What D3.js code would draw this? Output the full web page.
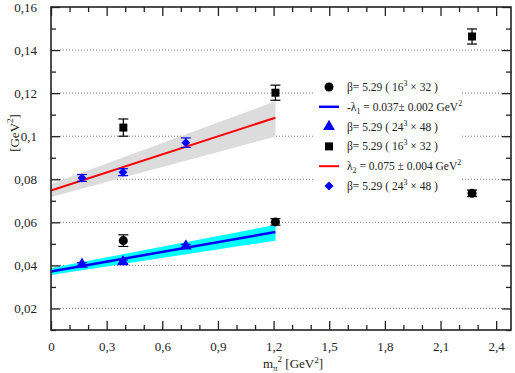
<!DOCTYPE html>
<html>
<head>
<meta charset="utf-8">
<script src="https://cdn.jsdelivr.net/npm/d3@7"></script>
<style>
  body { margin: 0; background: #fff; }
  svg text { font-family: "Liberation Serif", "DejaVu Serif", serif; }
</style>
</head>
<body>
<div id="chart"></div>
<script>
// data
const xTicks = [0, 0.3, 0.6, 0.9, 1.2, 1.5, 1.8, 2.1, 2.4];
const yTicks = [0.02, 0.04, 0.06, 0.08, 0.1, 0.12, 0.14, 0.16];

const circX = [0.39, 1.21, 2.27];
const circY = [0.0515, 0.0602, 0.0735];
const circE = [0.0027, 0.0015, 0.0015];

const triX = [0.167, 0.388, 0.727];
const triY = [0.0405, 0.0417, 0.049];
const triE = [0.0008, 0.0008, 0.0008];

const sqX = [0.39, 1.21, 2.27];
const sqY = [0.104, 0.1202, 0.1463];
const sqE = [0.004, 0.0035, 0.0035];

const diaX = [0.167, 0.388, 0.727];
const diaY = [0.0806, 0.0833, 0.097];
const diaE = [0.0016, 0.0016, 0.0022];

// fits: x at ends, line value, band low/high
const fitX = [0, 1.21];
const fit1 = [0.0372, 0.0555];
const band1Lo = [0.0356, 0.0515];
const band1Hi = [0.0388, 0.0588];
const fit2 = [0.0748, 0.1086];
const band2Lo = [0.0718, 0.0999];
const band2Hi = [0.0778, 0.1162];

const legendLabels = [
  "β= 5.29 ( 16|3| × 32 )",
  "-λ_1_ = 0.037± 0.002 GeV|2|",
  "β= 5.29 ( 24|3| × 48 )",
  "β= 5.29 ( 16|3| × 32 )",
  "λ_2_ = 0.075 ± 0.004 GeV|2|",
  "β= 5.29 ( 24|3| × 48 )"
];

const W = 515, H = 373;
const margin = { top: 7, right: 4, bottom: 43, left: 51 };

const x = d3.scaleLinear().domain([0, 2.48]).range([margin.left, W - margin.right]);
const y = d3.scaleLinear().domain([0.01, 0.16]).range([H - margin.bottom, margin.top]);

const svg = d3.select("#chart").append("svg")
  .attr("width", W).attr("height", H);

// grid
svg.append("g")
  .selectAll("line")
  .data(yTicks.filter(d => d < 0.16))
  .join("line")
  .attr("x1", x.range()[0]).attr("x2", x.range()[1])
  .attr("y1", d => y(d)).attr("y2", d => y(d))
  .attr("stroke", "#555").attr("stroke-width", 0.8)
  .attr("stroke-dasharray", "1,2");

// legend background (covers grid)
const lg = svg.append("g");
lg.append("rect")
  .attr("x", 314).attr("y", 74).attr("width", 148).attr("height", 122)
  .attr("fill", "#fff");

// bands
const bandArea = (lo, hi) => d3.area()
  .x((d, i) => x(fitX[i]))
  .y0((d, i) => y(lo[i]))
  .y1((d, i) => y(hi[i]))(fitX);

svg.append("path").attr("d", bandArea(band2Lo, band2Hi)).attr("fill", "#dcdcdc");
svg.append("path").attr("d", bandArea(band1Lo, band1Hi)).attr("fill", "#00ffff");

const fitLine = vals => d3.line()
  .x((d, i) => x(fitX[i]))
  .y((d, i) => y(vals[i]))(fitX);

svg.append("path").attr("d", fitLine(fit2)).attr("stroke", "#ff0000").attr("stroke-width", 2).attr("fill", "none");
svg.append("path").attr("d", fitLine(fit1)).attr("stroke", "#0000ff").attr("stroke-width", 2.5).attr("fill", "none");

// error bars
function errBars(xs, ys, es, color) {
  const g = svg.append("g").attr("stroke", color).attr("stroke-width", 1.2);
  xs.forEach((xv, i) => {
    const px = x(xv), top = y(ys[i] + es[i]), bot = y(ys[i] - es[i]);
    g.append("line").attr("x1", px).attr("x2", px).attr("y1", top).attr("y2", bot);
    g.append("line").attr("x1", px - 5).attr("x2", px + 5).attr("y1", top).attr("y2", top);
    g.append("line").attr("x1", px - 5).attr("x2", px + 5).attr("y1", bot).attr("y2", bot);
  });
}
errBars(circX, circY, circE, "#000");
errBars(sqX, sqY, sqE, "#000");
errBars(triX, triY, triE, "#0000ff");
errBars(diaX, diaY, diaE, "#0000ff");

const symCirc = d3.symbol(d3.symbolCircle, 64);
const symSq = d3.symbol(d3.symbolSquare, 64);
const symTri = d3.symbol(d3.symbolTriangle, 60);
const symDia = d3.symbol(d3.symbolSquare, 40); // rotated 45deg below

function points(xs, ys, sym, color, rot) {
  svg.append("g").selectAll("path")
    .data(xs)
    .join("path")
    .attr("transform", (d, i) => `translate(${x(d)},${y(ys[i])}) rotate(${rot || 0})`)
    .attr("d", sym)
    .attr("fill", color);
}
points(circX, circY, symCirc, "#000");
points(sqX, sqY, symSq, "#000");
points(triX, triY, symTri, "#0000ff");
points(diaX, diaY, symDia, "#0000ff", 45);

// frame and axes
const x0 = x.range()[0], x1 = x.range()[1], yb = y.range()[0], yt = y.range()[1];
const minorX = d3.range(0, 25).map(i => i / 10).filter(v => !xTicks.some(t => Math.abs(t - v) < 1e-6));
const minorY = d3.range(1, 17).map(i => i / 100).filter(v => !yTicks.some(t => Math.abs(t - v) < 1e-6));
const fmt = d => d === 0 ? "0" : String(+d.toFixed(2)).replace(".", ",");

svg.append("g").attr("transform", `translate(0,${yb})`)
  .call(d3.axisBottom(x).tickValues(xTicks).tickSize(-9).tickPadding(12).tickFormat(fmt));
svg.append("g").attr("transform", `translate(0,${yb})`)
  .call(d3.axisBottom(x).tickValues(minorX).tickSize(-5).tickFormat(""));
svg.append("g").attr("transform", `translate(0,${yt})`)
  .call(d3.axisTop(x).tickValues(xTicks).tickSize(-9).tickFormat(""));
svg.append("g").attr("transform", `translate(0,${yt})`)
  .call(d3.axisTop(x).tickValues(minorX).tickSize(-5).tickFormat(""));

svg.append("g").attr("transform", `translate(${x0},0)`)
  .call(d3.axisLeft(y).tickValues(yTicks).tickSize(-9).tickPadding(14).tickFormat(fmt));
svg.append("g").attr("transform", `translate(${x0},0)`)
  .call(d3.axisLeft(y).tickValues(minorY).tickSize(-5).tickFormat(""));
svg.append("g").attr("transform", `translate(${x1},0)`)
  .call(d3.axisRight(y).tickValues(yTicks).tickSize(-9).tickFormat(""));
svg.append("g").attr("transform", `translate(${x1},0)`)
  .call(d3.axisRight(y).tickValues(minorY).tickSize(-5).tickFormat(""));

svg.selectAll(".domain").remove();
svg.selectAll(".tick line").attr("stroke", "#222").attr("stroke-width", 1.3);
svg.selectAll(".tick text").attr("font-size", 13).attr("fill", "#222")
  .style("font-family", '"Liberation Serif", serif');

svg.append("rect")
  .attr("x", x0).attr("y", yt).attr("width", x1 - x0).attr("height", yb - yt)
  .attr("fill", "none").attr("stroke", "#222").attr("stroke-width", 1.6);

// axis titles
const xt = svg.append("text").attr("x", 293).attr("y", 368)
  .attr("text-anchor", "middle").attr("font-size", 13).attr("fill", "#222");
xt.append("tspan").text("m");
xt.append("tspan").attr("font-size", 9).attr("dy", 3).text("π");
xt.append("tspan").attr("font-size", 9).attr("dy", -9).text("2");
xt.append("tspan").attr("dy", 6).text(" [GeV");
xt.append("tspan").attr("font-size", 9).attr("dy", -5).text("2");
xt.append("tspan").attr("dy", 5).text("]");

const ytl = svg.append("text").attr("transform", "translate(19,133) rotate(-90)")
  .attr("text-anchor", "middle").attr("font-size", 13).attr("fill", "#222");
ytl.append("tspan").text("[GeV");
ytl.append("tspan").attr("font-size", 9).attr("dy", -6).text("2");
ytl.append("tspan").attr("dy", 6).text("]");

// legend
const legendSyms = [
  { type: "sym", sym: symCirc, color: "#000" },
  { type: "line", color: "#0000ff", w: 2.5 },
  { type: "sym", sym: symTri, color: "#0000ff" },
  { type: "sym", sym: symSq, color: "#000" },
  { type: "line", color: "#ff0000", w: 2 },
  { type: "sym", sym: symDia, color: "#0000ff", rot: 45 }
];
const rowY = d3.scalePoint().domain(d3.range(6)).range([87, 186]);

legendSyms.forEach((s, i) => {
  const ry = rowY(i);
  if (s.type === "sym") {
    lg.append("path").attr("d", s.sym).attr("fill", s.color)
      .attr("transform", `translate(329,${ry}) rotate(${s.rot || 0})`);
  } else {
    lg.append("line").attr("x1", 319).attr("x2", 339).attr("y1", ry).attr("y2", ry)
      .attr("stroke", s.color).attr("stroke-width", s.w);
  }
  // parse |sup| and _sub_ markers
  const t = lg.append("text").attr("x", 347).attr("y", ry + 4)
    .attr("font-size", 11.5).attr("fill", "#222");
  const parts = legendLabels[i].split(/(\|[^|]*\||_[^_]*_)/).filter(p => p.length);
  let shift = 0;
  parts.forEach(p => {
    if (p[0] === "|") {
      t.append("tspan").attr("font-size", 8).attr("dy", -5 - shift).text(p.slice(1, -1));
      shift = -5;
    } else if (p[0] === "_") {
      t.append("tspan").attr("font-size", 8).attr("dy", 3 - shift).text(p.slice(1, -1));
      shift = 3;
    } else {
      t.append("tspan").attr("dy", -shift).text(p);
      shift = 0;
    }
  });
});
</script>
</body>
</html>
